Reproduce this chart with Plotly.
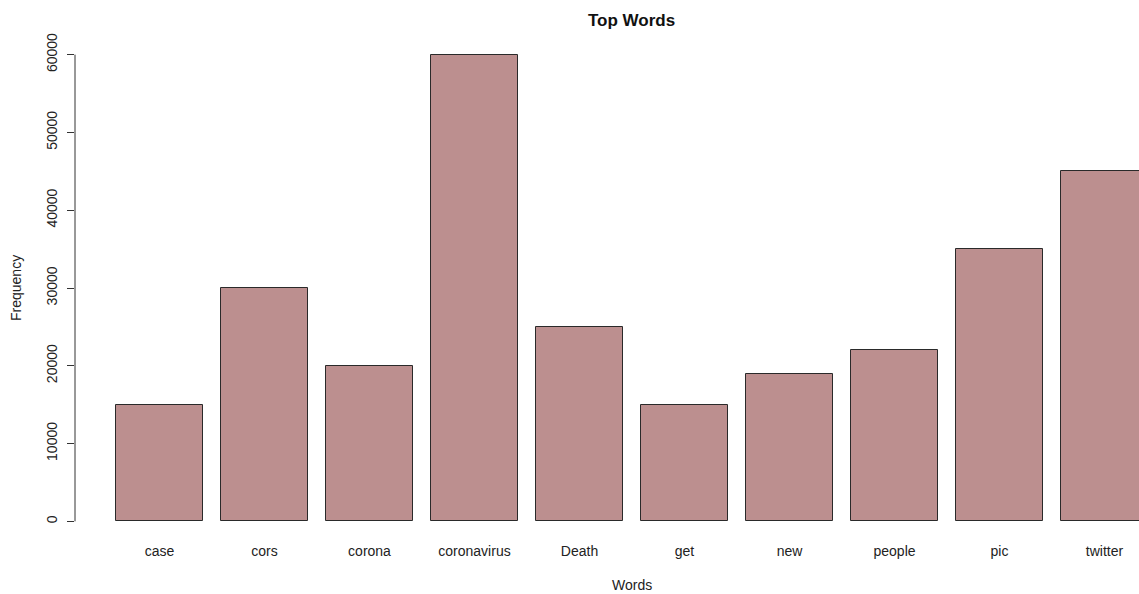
import plotly.graph_objects as go

words = ["case", "cors", "corona", "coronavirus", "Death", "get", "new", "people", "pic", "twitter"]
freq = [15000, 30000, 20000, 60000, 25000, 15000, 19000, 22000, 35000, 45000]
y_ticks = [0, 10000, 20000, 30000, 40000, 50000, 60000]

FONT = "Liberation Sans, Arial, sans-serif"
W, H = 1139, 594
L, T = 75, 36
B = H - 540
PW = W - L
PX_PER_CAT = 105.0
X0 = -(159.5 - 75) / PX_PER_CAT
X1 = X0 + PW / PX_PER_CAT

fig = go.Figure()
fig.add_trace(go.Bar(
    x=words, y=freq,
    width=1/1.2,
    marker=dict(color="#BC8F8F", line=dict(color="#2a2a2a", width=1)),
    hoverinfo="x+y",
))

fig.update_layout(
    width=W, height=H,
    margin=dict(l=L, r=0, t=T, b=B),
    paper_bgcolor="white", plot_bgcolor="white",
    showlegend=False,
    font=dict(family=FONT, size=14, color="#111"),
    title=dict(text="<b>Top Words</b>", x=631.5 / W, xanchor="center",
               y=1 - 20 / H, yanchor="middle",
               xref="container", yref="container",
               font=dict(family=FONT, size=17, color="#111")),
    bargap=0,
)
fig.update_xaxes(
    type="category", range=[X0, X1],
    showline=False, showgrid=False, zeroline=False, ticks="",
    tickfont=dict(family=FONT, size=14, color="#222"),
    ticklabelstandoff=1,
)
fig.update_yaxes(
    range=[-2400, 62400], tickvals=y_ticks, ticktext=[str(v) for v in y_ticks],
    showline=False, showgrid=False, zeroline=False,
    ticks="outside", ticklen=7, tickcolor="#333", tickwidth=1,
    tickangle=-90, tickfont=dict(family=FONT, size=14, color="#222"),
    ticklabelstandoff=4,
)
# y axis line spanning the tick range only (as in base R)
fig.add_shape(type="line", xref="paper", yref="y", x0=0, x1=0, y0=y_ticks[0], y1=y_ticks[-1],
              line=dict(color="#333", width=1))
fig.add_annotation(text="Words", xref="paper", yref="paper", x=(632 - 75) / PW, y=0,
                   xanchor="center", yanchor="middle",
                   yshift=-45, showarrow=False, font=dict(family=FONT, size=14, color="#222"))
fig.add_annotation(text="Frequency", xref="paper", yref="paper", x=0, y=0.5, xshift=-(75 - 16),
                   xanchor="center", yanchor="middle",
                   textangle=-90, showarrow=False, font=dict(family=FONT, size=14, color="#222"))

fig.write_html(
    "out.html",
    config={"displayModeBar": False},
    post_script="document.body.style.margin='0';document.body.style.overflow='hidden';",
)
